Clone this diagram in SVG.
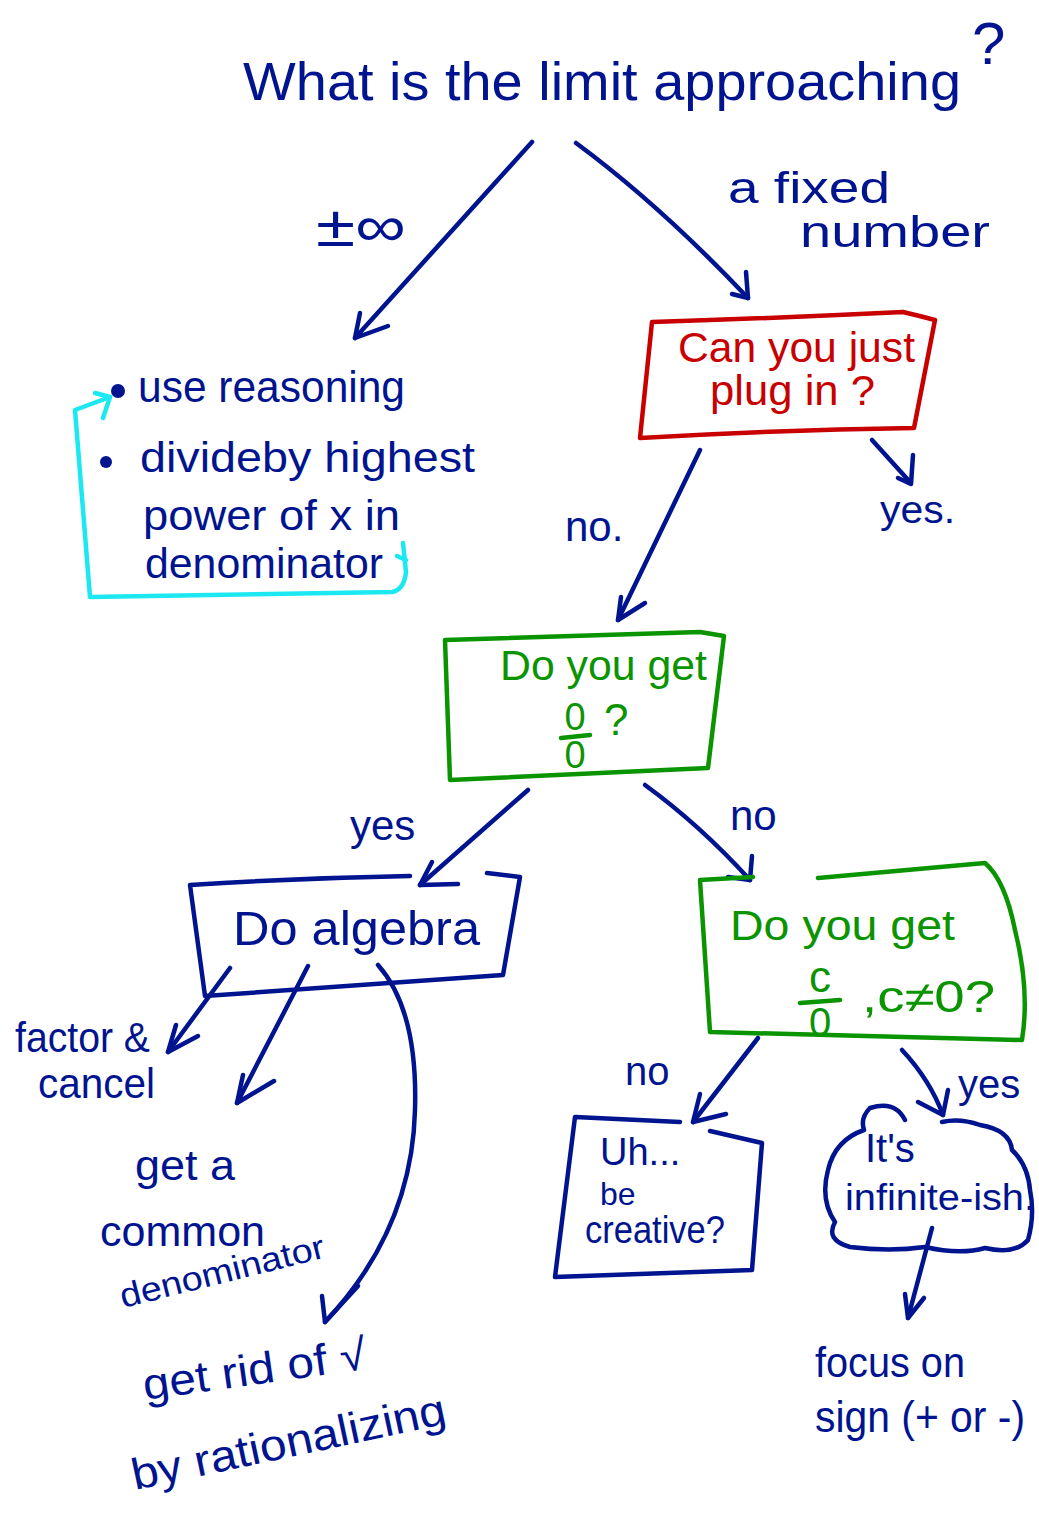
<svg xmlns="http://www.w3.org/2000/svg" width="1039" height="1521" viewBox="0 0 1039 1521">
<style>
text{font-family:"Liberation Sans","DejaVu Sans",sans-serif;}
.b{fill:#00148F;}
.r{fill:#C80000;}
.g{fill:#0A9400;}
.ln{fill:none;stroke:#00148F;stroke-width:4.5;stroke-linecap:round;stroke-linejoin:round;}
.rl{fill:none;stroke:#C80000;stroke-width:4.5;stroke-linecap:round;stroke-linejoin:round;}
.gl{fill:none;stroke:#0A9400;stroke-width:4.5;stroke-linecap:round;stroke-linejoin:round;}
.cl{fill:none;stroke:#1CE8F2;stroke-width:4.5;stroke-linecap:round;stroke-linejoin:round;}
</style>
<rect width="1039" height="1521" fill="#fff"/>

<g id="title">
<text class="b" x="243" y="100" font-size="54" textLength="718" lengthAdjust="spacingAndGlyphs">What is the limit approaching</text>
<text class="b" x="972" y="64" font-size="60">?</text>
</g>

<g id="connectors">
<!-- title to infinity -->
<path class="ln" d="M532,142 L355,338"/>
<path class="ln" d="M360,313 L355,338 L388,326"/>
<text class="b" x="316" y="246" font-size="58" textLength="90" lengthAdjust="spacingAndGlyphs">±∞</text>
<!-- title to fixed number -->
<path class="ln" d="M576,143 Q660,205 748,298"/>
<path class="ln" d="M746,272 L748,298 L732,294"/>
<text class="b" x="728" y="203" font-size="44" textLength="162" lengthAdjust="spacingAndGlyphs">a fixed</text>
<text class="b" x="800" y="247" font-size="44" textLength="190" lengthAdjust="spacingAndGlyphs">number</text>
<!-- plug in: no -->
<path class="ln" d="M700,450 L618,620"/>
<path class="ln" d="M621,597 L618,620 L645,603"/>
<text class="b" x="565" y="541" font-size="42">no.</text>
<!-- plug in: yes -->
<path class="ln" d="M872,440 L910,482"/>
<path class="ln" d="M913,455 L911,484 L898,478"/>
<text class="b" x="880" y="523" font-size="38" textLength="75" lengthAdjust="spacingAndGlyphs">yes.</text>
<!-- 0/0 yes -->
<path class="ln" d="M528,790 L420,885"/>
<path class="ln" d="M432,862 L420,885 L458,884"/>
<text class="b" x="350" y="840" font-size="42">yes</text>
<!-- 0/0 no -->
<path class="ln" d="M645,785 Q700,825 750,880"/>
<path class="ln" d="M752,856 L750,880 L728,877"/>
<text class="b" x="730" y="830" font-size="42">no</text>
<!-- algebra branches -->
<path class="ln" d="M230,968 L168,1052"/>
<path class="ln" d="M176,1025 L168,1052 L198,1036"/>
<path class="ln" d="M308,966 L237,1103"/>
<path class="ln" d="M243,1075 L237,1103 L274,1081"/>
<path class="ln" d="M378,965 Q418,1010 415,1110 Q412,1230 325,1322"/>
<path class="ln" d="M322,1296 L325,1322 L358,1286"/>
<!-- c/0 no -->
<path class="ln" d="M758,1038 L693,1122"/>
<path class="ln" d="M700,1094 L693,1122 L726,1114"/>
<text class="b" x="625" y="1085" font-size="40">no</text>
<!-- c/0 yes -->
<path class="ln" d="M902,1050 Q930,1080 943,1115"/>
<path class="ln" d="M948,1090 L943,1115 L918,1102"/>
<text class="b" x="958" y="1098" font-size="40">yes</text>
<!-- infinite-ish to focus -->
<path class="ln" d="M932,1228 L908,1318"/>
<path class="ln" d="M905,1294 L908,1318 L924,1298"/>
<!-- cyan loop -->
<path class="cl" d="M403,543 L406,572 Q404,590 392,592 L90,597 L75,410 L110,397"/>
<path class="cl" d="M95,393 L110,397 L103,418"/>
<path class="cl" d="M397,556 L406,560"/>
</g>

<g id="infinity-methods">
<circle class="b" cx="118" cy="391" r="7"/>
<text class="b" x="138" y="402" font-size="44" textLength="267" lengthAdjust="spacingAndGlyphs">use reasoning</text>
<circle class="b" cx="106" cy="462" r="6"/>
<text class="b" x="140" y="472" font-size="42" textLength="335" lengthAdjust="spacingAndGlyphs">divideby highest</text>
<text class="b" x="143" y="530" font-size="42" textLength="257" lengthAdjust="spacingAndGlyphs">power of x in</text>
<text class="b" x="145" y="578" font-size="42" textLength="238" lengthAdjust="spacingAndGlyphs">denominator</text>
</g>

<g id="plug-in">
<path class="rl" d="M652,322 Q780,318 903,312 Q920,316 935,320 L914,428 Q780,430 640,438 Z"/>
<text class="r" x="678" y="362" font-size="42" textLength="237" lengthAdjust="spacingAndGlyphs">Can you just</text>
<text class="r" x="710" y="405" font-size="42" textLength="165" lengthAdjust="spacingAndGlyphs">plug in ?</text>
</g>

<g id="zero-over-zero">
<path class="gl" d="M445,640 L700,632 L724,636 L708,768 L450,780 Z"/>
<text class="g" x="500" y="680" font-size="42" textLength="207" lengthAdjust="spacingAndGlyphs">Do you get</text>
<text class="g" x="575" y="730" font-size="38" text-anchor="middle">0</text>
<path class="gl" d="M561,738 L590,735"/>
<text class="g" x="575" y="768" font-size="38" text-anchor="middle">0</text>
<text class="g" x="604" y="735" font-size="44">?</text>
</g>

<g id="do-algebra">
<path class="ln" d="M410,876 Q300,878 190,885 L205,996 L503,975 L520,877 L487,873"/>
<text class="b" x="233" y="945" font-size="48" textLength="247" lengthAdjust="spacingAndGlyphs">Do algebra</text>
</g>

<g id="factor-cancel">
<text class="b" x="15" y="1052" font-size="42" textLength="135" lengthAdjust="spacingAndGlyphs">factor &amp;</text>
<text class="b" x="38" y="1098" font-size="42" textLength="117" lengthAdjust="spacingAndGlyphs">cancel</text>
</g>

<g id="common-denominator">
<text class="b" x="135" y="1180" font-size="42" textLength="100" lengthAdjust="spacingAndGlyphs">get a</text>
<text class="b" x="100" y="1246" font-size="42" textLength="165" lengthAdjust="spacingAndGlyphs">common</text>
<text class="b" x="123" y="1308" font-size="34" textLength="210" lengthAdjust="spacingAndGlyphs" transform="rotate(-14 123 1308)">denominator</text>
</g>

<g id="rationalize">
<text class="b" x="145" y="1400" font-size="44" textLength="225" lengthAdjust="spacingAndGlyphs" transform="rotate(-8 145 1400)">get rid of √</text>
<text class="b" x="135" y="1490" font-size="44" textLength="320" lengthAdjust="spacingAndGlyphs" transform="rotate(-12 135 1490)">by rationalizing</text>
</g>

<g id="c-over-zero">
<path class="gl" d="M753,877 L700,880 L710,1032 L1022,1040 Q1030,990 1015,930 Q1005,880 985,863 L818,878"/>
<text class="g" x="730" y="940" font-size="42" textLength="225" lengthAdjust="spacingAndGlyphs">Do you get</text>
<text class="g" x="820" y="992" font-size="44" text-anchor="middle">c</text>
<path class="gl" d="M800,1003 L840,1000"/>
<text class="g" x="820" y="1036" font-size="40" text-anchor="middle">0</text>
<text class="g" x="862" y="1012" font-size="44" textLength="133" lengthAdjust="spacingAndGlyphs">,c≠0?</text>
</g>

<g id="be-creative">
<path class="ln" d="M680,1122 L575,1117 L555,1277 L752,1270 L762,1143 L710,1131"/>
<text class="b" x="600" y="1165" font-size="38">Uh...</text>
<text class="b" x="600" y="1205" font-size="32">be</text>
<text class="b" x="585" y="1243" font-size="38" textLength="140" lengthAdjust="spacingAndGlyphs">creative?</text>
</g>

<g id="infinite-ish">
<path class="ln" d="M905,1120 Q895,1100 870,1108 Q860,1118 864,1130 Q835,1140 828,1170 Q820,1200 835,1222 Q825,1240 850,1247 Q890,1252 925,1247 Q960,1255 985,1248 Q1015,1255 1028,1240 Q1035,1215 1030,1190 Q1028,1165 1012,1150 Q1010,1130 980,1125 Q960,1118 942,1122"/>
<text class="b" x="865" y="1162" font-size="40">It's</text>
<text class="b" x="845" y="1210" font-size="36" textLength="190" lengthAdjust="spacingAndGlyphs">infinite-ish.</text>
</g>

<g id="focus-sign">
<text class="b" x="815" y="1377" font-size="42" textLength="150" lengthAdjust="spacingAndGlyphs">focus on</text>
<text class="b" x="815" y="1432" font-size="44" textLength="210" lengthAdjust="spacingAndGlyphs">sign (+ or -)</text>
</g>
</svg>
